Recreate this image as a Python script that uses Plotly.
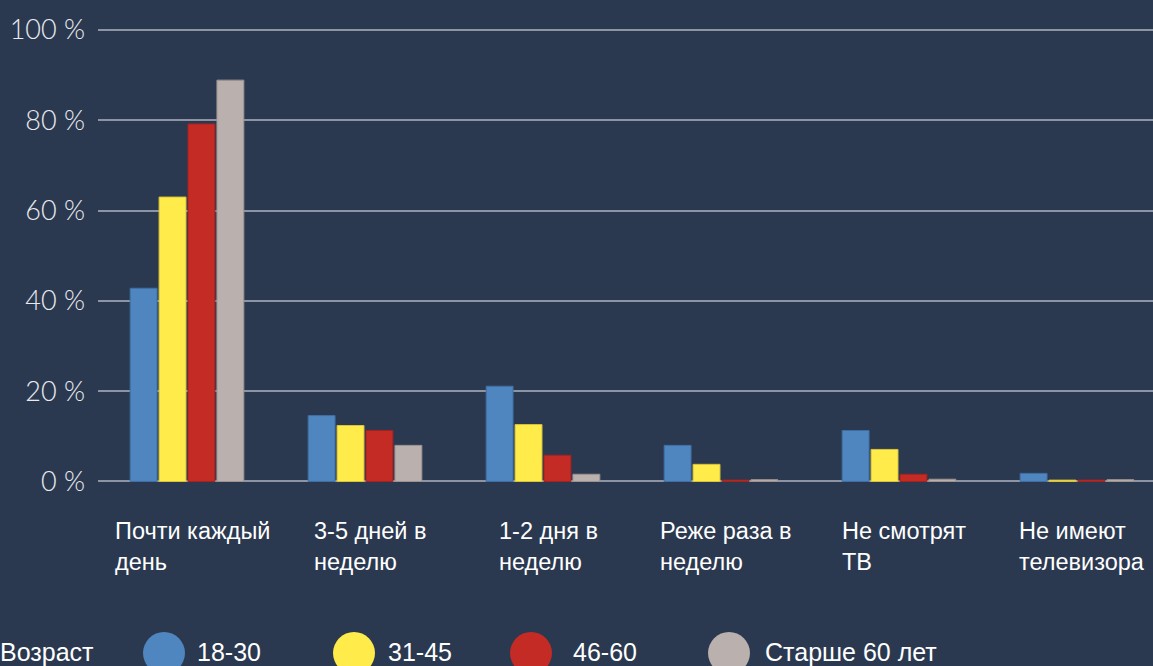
import plotly.graph_objects as go

categories = ["Почти каждый<br>день", "3-5 дней в<br>неделю", "1-2 дня в<br>неделю",
              "Реже раза в<br>неделю", "Не смотрят<br>ТВ", "Не имеют<br>телевизора"]
series_names = ["18-30", "31-45", "46-60", "Старше 60 лет"]
values_18_30 = [42.8, 14.6, 21.1, 8.0, 11.3, 1.8]
values_31_45 = [63.0, 12.4, 12.6, 3.8, 7.1, 0.3]
values_46_60 = [79.2, 11.3, 5.8, 0.3, 1.6, 0.3]
values_60p = [88.9, 8.0, 1.6, 0.4, 0.5, 0.4]
series_values = [values_18_30, values_31_45, values_46_60, values_60p]
colors = ["#4F86C0", "#FFEC4A", "#C42B25", "#BAB0AD"]
line_colors = ["#3F6FA3", "#D9C53C", "#A3231F", "#9C9390"]
tick_vals = [0, 20, 40, 60, 80, 100]
legend_title = "Возраст"

W, H = 1153, 666
ML, MR, MT, MB = 98, 0, 21, 180
PW, PH = W - ML - MR, H - MT - MB

def px_x(px):
    return (px - ML) / PW

def px_y(py):
    return (H - MB - py) / PH

xs = list(range(len(categories)))
fig = go.Figure()
for name, vals, c, lc in zip(series_names, series_values, colors, line_colors):
    fig.add_trace(go.Bar(x=xs, y=vals, name=name, marker=dict(color=c, line=dict(color=lc, width=1)),
                         showlegend=False))

bg = "#2B3950"
fig.update_layout(
    width=W, height=H,
    margin=dict(l=ML, r=MR, t=MT, b=MB, autoexpand=False),
    paper_bgcolor=bg, plot_bgcolor=bg,
    barmode="group", bargap=0.35, bargroupgap=0.07,
    showlegend=False,
    font=dict(family="Liberation Sans, Arial, sans-serif", color="#FFFFFF"),
)
fig.update_xaxes(range=[-0.5, (W - ML) / 178 - 0.5], showticklabels=False, showgrid=False,
                 zeroline=False, showline=False, ticks="")
fig.update_yaxes(range=[-1, 102], tickvals=tick_vals, ticktext=[f"{v} %" for v in tick_vals],
                 showgrid=True, gridcolor="#8D95A4", gridwidth=2, zeroline=False, showline=False,
                 ticks="", ticklabelstandoff=12,
                 tickfont=dict(family="Lato, sans-serif", size=27, color="#E8EAEE", weight=300))

# category labels: block centered, lines left-aligned
for i, cat in enumerate(categories):
    fig.add_annotation(x=i + 0.03, y=px_y(516), xref="x", yref="paper", text=cat, showarrow=False,
                       xanchor="center", yanchor="top", align="left",
                       font=dict(size=23.5, color="#FFFFFF", family="Liberation Sans, Arial, sans-serif"))

# legend
ly = 652
fig.add_annotation(x=px_x(0), y=px_y(ly), xref="paper", yref="paper", text=legend_title,
                   showarrow=False, xanchor="left", yanchor="middle", xshift=-2,
                   font=dict(size=25, color="#FFFFFF"))
circle_left = [143, 333, 510, 708]
text_left = [197, 388, 573, 765]
for name, c, cx, tx in zip(series_names, colors, circle_left, text_left):
    fig.add_shape(type="circle", xref="paper", yref="paper",
                  x0=px_x(cx), x1=px_x(cx + 42), y0=px_y(632), y1=px_y(674),
                  fillcolor=c, line=dict(width=0), layer="above")
    fig.add_annotation(x=px_x(tx), y=px_y(ly), xref="paper", yref="paper", text=name,
                       showarrow=False, xanchor="left", yanchor="middle", xshift=-2,
                       font=dict(size=25, color="#FFFFFF"))

fig.write_html("out.html", config={"displayModeBar": False},
               post_script="document.body.style.margin='0';document.body.style.overflow='hidden';")
